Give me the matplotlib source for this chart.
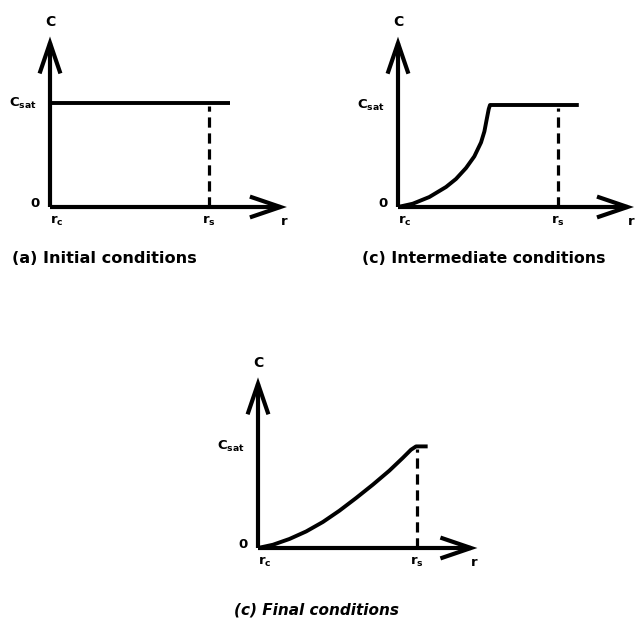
import matplotlib

matplotlib.use("Agg")
import matplotlib.pyplot as plt

plt.rcParams["font.family"] = ["DejaVu Sans"]
plt.rcParams["font.weight"] = "bold"
plt.rcParams["mathtext.fontset"] = "custom"
plt.rcParams["mathtext.rm"] = "DejaVu Sans:bold"
plt.rcParams["mathtext.bf"] = "DejaVu Sans:bold"
plt.rcParams["mathtext.it"] = "DejaVu Sans:bold"

W, H = 641, 621

# concentration profiles, r normalised so r_c = 0 and r_s = 1, C normalised by C_sat
R_S = 1.0
C_SAT = 1.0

initial_r = [0.0, 1.13]
initial_c = [1.0, 1.0]

intermediate_r = [0.0, 0.092, 0.196, 0.30, 0.3625, 0.425, 0.477, 0.519, 0.54, 0.554,
                  0.567, 0.575, 1.13]
intermediate_c = [0.0, 0.032, 0.098, 0.196, 0.275, 0.382, 0.496, 0.633, 0.741, 0.856,
                  0.96, 1.0, 1.0]

final_r = [0.0, 0.094, 0.198, 0.303, 0.408, 0.512, 0.617, 0.722, 0.826, 0.91, 0.962, 0.994, 1.067]
final_c = [0.0, 0.032, 0.089, 0.163, 0.256, 0.367, 0.492, 0.623, 0.761, 0.886, 0.967, 1.0, 1.0]

captions = ["(a) Initial conditions", "(c) Intermediate conditions", "(c) Final conditions"]

LW_AXIS = 3.0
LW_CURVE = 2.8


def add_panel(fig, origin, scale, r_tip, c_tip, rs, cs):
    ox, oy = origin
    sx, sy = scale
    xmin, xmax, ymin, ymax = -0.35, 1.6, -0.35, 1.95
    ax = fig.add_axes([
        (ox + xmin * sx) / W,
        (H - oy + ymin * sy) / H,
        (xmax - xmin) * sx / W,
        (ymax - ymin) * sy / H,
    ])
    ax.set_xlim(xmin, xmax)
    ax.set_ylim(ymin, ymax)
    ax.axis("off")

    head = dict(arrowstyle="->, head_length=2.2, head_width=0.75", lw=LW_AXIS, color="black",
                shrinkA=0, shrinkB=0, mutation_scale=10, joinstyle="miter", capstyle="butt")
    ax.annotate("", xy=(0, c_tip), xytext=(0, 0), arrowprops=head)
    ax.annotate("", xy=(r_tip, 0), xytext=(0, 0), arrowprops=head)

    ax.plot(rs, cs, color="black", lw=LW_CURVE, solid_capstyle="butt", solid_joinstyle="round")
    ax.plot([R_S, R_S], [0, C_SAT * 0.97], color="black", lw=2.3, dashes=(3.2, 1.8))

    ax.text(0.0, c_tip + 0.14, "C", ha="center", va="center", fontsize=10)
    ax.text(-0.08, C_SAT, r"C$_{\mathrm{sat}}$", ha="right", va="center", fontsize=9.5)
    ax.text(-0.095, 0.03, "0", ha="center", va="center", fontsize=9.5)
    ax.text(0.0, -0.07, r"r$_{\mathrm{c}}$", ha="left", va="top", fontsize=9.5)
    ax.text(R_S, -0.07, r"r$_{\mathrm{s}}$", ha="center", va="top", fontsize=9.5)
    ax.text(r_tip - 0.02, -0.14, "r", ha="center", va="center", fontsize=9.5)
    return ax


fig = plt.figure(figsize=(W / 100, H / 100), dpi=100)

add_panel(fig, (50, 207), (159, 104), 1.49, 1.64, initial_r, initial_c)
add_panel(fig, (398, 207), (160, 102), 1.475, 1.67, intermediate_r, intermediate_c)
add_panel(fig, (258, 548), (159, 101.6), 1.38, 1.68, final_r, final_c)

fig.text(12 / W, 1 - 258 / H, captions[0], ha="left", va="center", fontsize=11.6)
fig.text(484 / W, 1 - 258 / H, captions[1], ha="center", va="center", fontsize=11.3)
fig.text(317 / W, 1 - 610 / H, captions[2], ha="center", va="center", fontsize=11, style="italic")

fig.savefig("out.png", dpi=100)
